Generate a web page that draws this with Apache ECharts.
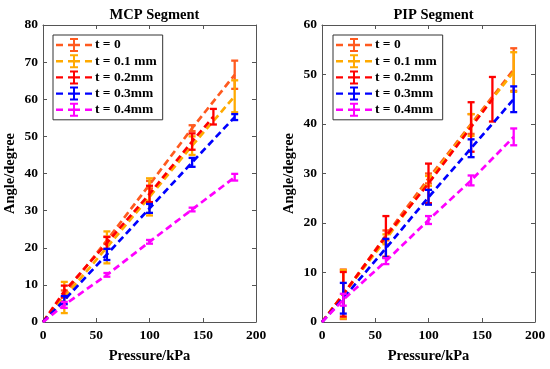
<!DOCTYPE html>
<html>
<head>
<meta charset="utf-8">
<script src="https://cdn.jsdelivr.net/npm/echarts@6/dist/echarts.min.js"></script>
<style>html,body{margin:0;padding:0;background:#fff}#c{width:550px;height:369px}</style>
</head>
<body>
<div id="c"></div>
<script>
// ---- data ----
const pressure = [0, 20, 60, 100, 140, 180];
const pressureT02 = [0, 20, 60, 100, 140, 160];
const seriesNames = ['t = 0', 't = 0.1 mm', 't = 0.2mm', 't = 0.3mm', 't = 0.4mm'];
const seriesColors = ['#FF5A1F', '#FFAA00', '#FF0000', '#0000FF', '#FF00FF'];

// MCP segment (mean, error)
const mcpT0 = [0, 7.5, 22.0, 37.0, 52.2, 66.6];
const mcpT0Err = [0, 1.0, 1.0, 1.0, 0.8, 3.8];
const mcpT01 = [0, 6.6, 20.1, 33.7, 47.5, 60.8];
const mcpT01Err = [0, 4.2, 4.3, 5.0, 2.5, 4.3];
const mcpT02 = [0, 8.3, 21.3, 34.5, 48.6, 55.3];
const mcpT02Err = [0, 1.5, 1.6, 2.2, 2.2, 2.1];
const mcpT03 = [0, 5.9, 18.2, 30.6, 43.0, 55.2];
const mcpT03Err = [0, 1.1, 1.5, 1.2, 1.2, 0.8];
const mcpT04 = [0, 4.6, 12.7, 21.6, 30.3, 39.0];
const mcpT04Err = [0, 0.8, 0.5, 0.5, 0.5, 0.9];

// PIP segment (mean, error)
const pipT0 = [0, 5.6, 17.5, 29.0, 40.0, 51.0];
const pipT0Err = [0, 5.0, 1.0, 1.0, 2.0, 4.3];
const pipT01 = [0, 5.6, 16.7, 28.5, 39.8, 50.5];
const pipT01Err = [0, 4.9, 1.0, 1.0, 2.2, 4.0];
const pipT02 = [0, 5.6, 17.3, 28.0, 39.4, 45.0];
const pipT02Err = [0, 4.5, 4.1, 4.0, 5.0, 4.5];
const pipT03 = [0, 4.8, 14.9, 25.2, 35.1, 45.0];
const pipT03Err = [0, 3.1, 1.9, 1.5, 1.8, 2.6];
const pipT04 = [0, 4.5, 12.3, 20.6, 28.6, 37.4];
const pipT04Err = [0, 1.2, 0.6, 0.8, 1.0, 1.7];

const xTicks = [0, 50, 100, 150, 200];
const mcpYMax = 80, pipYMax = 60, yStep = 10;

// ---- build ----
const font = '"Liberation Serif", "Times New Roman", serif';
const axisColor = '#555';

const mcpSets = [[pressure, mcpT0, mcpT0Err], [pressure, mcpT01, mcpT01Err], [pressureT02, mcpT02, mcpT02Err], [pressure, mcpT03, mcpT03Err], [pressure, mcpT04, mcpT04Err]];
const pipSets = [[pressure, pipT0, pipT0Err], [pressure, pipT01, pipT01Err], [pressureT02, pipT02, pipT02Err], [pressure, pipT03, pipT03Err], [pressure, pipT04, pipT04Err]];

function errRender(color) {
  return function (params, api) {
    const x = api.value(0), y = api.value(1), e = api.value(2);
    if (!e) return null;
    const p1 = api.coord([x, y + e]), p2 = api.coord([x, y - e]);
    const h = 3.5, st = { stroke: color, lineWidth: 2.3 };
    return { type: 'group', children: [
      { type: 'line', shape: { x1: p1[0], y1: p1[1], x2: p2[0], y2: p2[1] }, style: st },
      { type: 'line', shape: { x1: p1[0] - h, y1: p1[1], x2: p1[0] + h, y2: p1[1] }, style: st },
      { type: 'line', shape: { x1: p2[0] - h, y1: p2[1], x2: p2[0] + h, y2: p2[1] }, style: st }
    ]};
  };
}

const series = [];
function addSets(sets, xi, yi) {
  sets.forEach((s, i) => {
    const data = s[0].map((x, k) => [x, s[1][k], s[2][k]]);
    series.push({
      name: seriesNames[i], type: 'line', xAxisIndex: xi, yAxisIndex: yi,
      data: data.map(d => [d[0], d[1]]), showSymbol: false, symbol: 'none',
      itemStyle: { color: seriesColors[i] },
      lineStyle: { color: seriesColors[i], width: 2.7, type: [7, 4] },
      z: 2 + i, silent: true
    });
    series.push({
      name: seriesNames[i], type: 'custom', xAxisIndex: xi, yAxisIndex: yi,
      data: data, renderItem: errRender(seriesColors[i]),
      itemStyle: { color: seriesColors[i] }, z: 2 + i, silent: true
    });
  });
}
addSets(mcpSets, 0, 0);
addSets(pipSets, 2, 2);

const iconPath = 'path://M0 5.8H7V8.2H0Z M12 5.8H24V8.2H12Z M17 0H19V14H17Z M14 0H22V2H14Z M14 12H22V14H14Z M29 5.8H36V8.2H29Z';

function legend(left) {
  return {
    left: left, top: 35, orient: 'vertical', selectedMode: false,
    backgroundColor: '#fff', borderColor: '#333', borderWidth: 1,
    padding: [3, 6, 3, 3], itemGap: 2.2, itemWidth: 36, itemHeight: 14,
    textStyle: { fontFamily: font, fontWeight: 'bold', fontSize: 13.5, color: '#000', padding: [0, 0, 0, -2] },
    data: seriesNames.map((n, i) => ({ name: n, icon: iconPath, itemStyle: { color: seriesColors[i], borderWidth: 0 } }))
  };
}

function xAx(gi, pos, showLabel, name) {
  return {
    gridIndex: gi, type: 'value', min: 0, max: 200, interval: 50, position: pos,
    name: name || '', nameLocation: 'middle', nameGap: 27,
    nameTextStyle: { fontFamily: font, fontWeight: 'bold', fontSize: 14.5, color: '#000' },
    axisLine: { show: true, onZero: false, lineStyle: { color: axisColor, width: 1 } },
    axisTick: { show: true, inside: true, length: 4, lineStyle: { color: axisColor } },
    axisLabel: { show: showLabel, fontFamily: font, fontWeight: 'bold', fontSize: 13.5, color: '#000', margin: 7 },
    splitLine: { show: false }
  };
}
function yAx(gi, pos, max, showLabel, name) {
  return {
    gridIndex: gi, type: 'value', min: 0, max: max, interval: yStep, position: pos,
    name: name || '', nameLocation: 'middle', nameGap: 25, nameRotate: 90,
    nameTextStyle: { fontFamily: font, fontWeight: 'bold', fontSize: 14.5, color: '#000' },
    axisLine: { show: true, onZero: false, lineStyle: { color: axisColor, width: 1 } },
    axisTick: { show: true, inside: true, length: 4, lineStyle: { color: axisColor } },
    axisLabel: { show: showLabel, fontFamily: font, fontWeight: 'bold', fontSize: 13.5, color: '#000', margin: 5 },
    splitLine: { show: false }
  };
}

const option = {
  animation: false,
  backgroundColor: '#fff',
  title: [
    { text: 'MCP Segment', left: 149.5, top: 3, textAlign: 'center', textStyle: { fontFamily: font, fontWeight: 'bold', fontSize: 14.5, color: '#000' } },
    { text: 'PIP Segment', left: 428.5, top: 3, textAlign: 'center', textStyle: { fontFamily: font, fontWeight: 'bold', fontSize: 14.5, color: '#000' } }
  ],
  grid: [
    { left: 43, top: 25, width: 213, height: 299, show: false },
    { left: 322, top: 25, width: 213, height: 299, show: false }
  ],
  xAxis: [xAx(0, 'bottom', true, 'Pressure/kPa'), xAx(0, 'top', false), xAx(1, 'bottom', true, 'Pressure/kPa'), xAx(1, 'top', false)],
  yAxis: [yAx(0, 'left', mcpYMax, true, 'Angle/degree'), yAx(0, 'right', mcpYMax, false), yAx(1, 'left', pipYMax, true, 'Angle/degree'), yAx(1, 'right', pipYMax, false)],
  legend: [legend(53), legend(333)],
  series: series
};

const chart = echarts.init(document.getElementById('c'), null, { renderer: 'canvas' });
chart.setOption(option);
</script>
</body>
</html>
